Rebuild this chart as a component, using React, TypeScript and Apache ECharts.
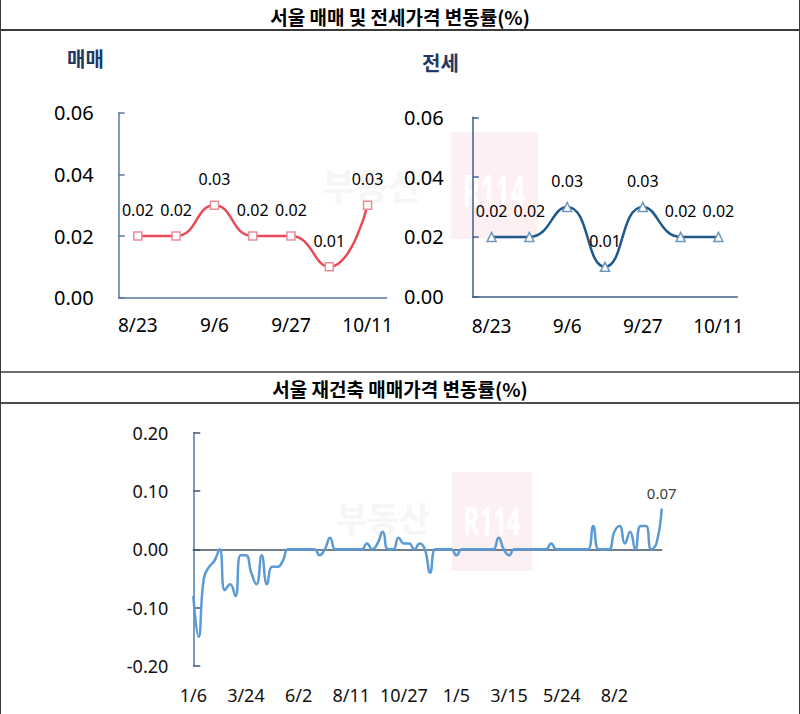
import React, { useEffect, useRef } from 'react';
import * as echarts from 'echarts';

// ---- Top charts (weekly) ----
const topCategories = ['8/23', '8/30', '9/6', '9/13', '9/27', '10/4', '10/11'];
const saleValues = [0.02, 0.02, 0.03, 0.02, 0.02, 0.01, 0.03];
const jeonseValues = [0.02, 0.02, 0.03, 0.01, 0.03, 0.02, 0.02];
const topYMin = 0;
const topYMax = 0.06;
const topYStep = 0.02;

// ---- Bottom chart (reconstruction sale price change) ----
const rebuildDates = [
  '1/6', '1/13', '1/20', '2/3', '2/10', '2/17', '2/24', '3/2', '3/9', '3/16',
  '3/24', '3/31', '4/7', '4/14', '4/21', '4/28', '5/5', '5/12', '5/19', '5/26',
  '6/2', '6/9', '6/16', '6/23', '6/30', '7/7', '7/14', '7/21', '7/28', '8/4',
  '8/11', '8/18', '8/25', '9/1', '9/8', '9/15', '9/22', '10/6', '10/13', '10/20',
  '10/27', '11/3', '11/10', '11/17', '11/24', '12/1', '12/8', '12/15', '12/22', '12/29',
  '1/5', '1/12', '1/19', '1/26', '2/1', '2/8', '2/15', '2/22', '3/1', '3/8',
  '3/15', '3/22', '3/29', '4/5', '4/12', '4/19', '4/26', '5/3', '5/10', '5/17',
  '5/24', '5/31', '6/7', '6/14', '6/21', '6/28', '7/5', '7/12', '7/19', '7/26',
  '8/2', '8/9', '8/16', '8/23', '8/30', '9/6', '9/13', '9/27', '10/4', '10/11',
];
const rebuildValues = [
  -0.08, -0.15, -0.05, -0.03, -0.02, 0.0, -0.07, -0.06, -0.08, -0.01,
  -0.01, -0.04, -0.06, -0.01, -0.06, -0.03, -0.03, -0.02, 0.0, 0.0,
  0.0, 0.0, 0.0, 0.0, -0.01, 0.0, 0.02, 0.0, 0.0, 0.0,
  0.0, 0.0, 0.0, 0.01, 0.0, 0.01, 0.03, 0.0, 0.0, 0.02,
  0.01, 0.01, 0.0, 0.01, 0.0, -0.04, 0.0, 0.0, 0.0, 0.0,
  -0.01, 0.0, 0.0, 0.0, 0.0, 0.0, 0.0, 0.0, 0.02, 0.0,
  -0.01, 0.0, 0.0, 0.0, 0.0, 0.0, 0.0, 0.0, 0.01, 0.0,
  0.0, 0.0, 0.0, 0.0, 0.0, 0.0, 0.04, 0.0, 0.0, 0.0,
  0.03, 0.04, 0.01, 0.03, 0.0, 0.04, 0.04, 0.0, 0.01, 0.07,
];
const bottomYMin = -0.2;
const bottomYMax = 0.2;
const bottomYStep = 0.1;

const NUM_FONT = "'Noto Sans', 'Open Sans', sans-serif";
const KR_FONT = "'Noto Sans CJK KR', 'Noto Sans', sans-serif";

export default function App() {
  const ref = useRef<HTMLDivElement>(null);

  useEffect(() => {
    if (!ref.current) return;
    const chart = echarts.init(ref.current, null, { renderer: 'svg' });
    const fmt = (v: number) => Number(v).toFixed(2);

    const topY = (gridIndex: number, color: string, margin: number) => ({
      type: 'value',
      gridIndex,
      min: topYMin,
      max: topYMax,
      interval: topYStep,
      axisLine: { show: true, lineStyle: { color, width: 1.5 } },
      axisTick: { show: true, inside: true, length: 6, lineStyle: { color, width: 1.5 } },
      splitLine: { show: false },
      axisLabel: { formatter: fmt, fontSize: 20, color: '#000', fontFamily: NUM_FONT, margin },
    });
    const topX = (gridIndex: number, color: string, margin: number) => ({
      type: 'category',
      gridIndex,
      data: topCategories,
      boundaryGap: true,
      axisLine: { show: true, lineStyle: { color, width: 1.5 } },
      axisTick: { show: false },
      axisLabel: { interval: 1, fontSize: 19, color: '#000', fontFamily: NUM_FONT, margin },
    });
    const topLabel = {
      show: true,
      position: 'top',
      distance: 13,
      fontSize: 16,
      color: '#000',
      fontFamily: NUM_FONT,
      formatter: (p: any) => Number(p.value).toFixed(2),
    };

    const lastIdx = rebuildValues.length - 1;

    const option: any = {
      animation: false,
      backgroundColor: '#ffffff',
      grid: [
        { left: 118.7, top: 112.7, width: 268, height: 185 },
        { left: 472.7, top: 117.3, width: 264.6, height: 179.4 },
        { left: 193.3, top: 432.7, width: 468.4, height: 233.3 },
      ],
      xAxis: [
        topX(0, '#5877a3', 18),
        topX(1, '#3f5f8c', 20),
        {
          type: 'category',
          gridIndex: 2,
          data: rebuildDates,
          boundaryGap: false,
          axisLine: { show: false, onZero: false },
          axisTick: { show: false },
          axisLabel: { interval: 9, fontSize: 18, color: '#111', fontFamily: NUM_FONT, margin: 20 },
        },
        {
          type: 'category',
          gridIndex: 2,
          data: rebuildDates,
          boundaryGap: false,
          axisLine: { show: true, onZero: true, lineStyle: { color: '#44546a', width: 1.5 } },
          axisTick: { show: false },
          axisLabel: { show: false },
        },
      ],
      yAxis: [
        topY(0, '#5877a3', 25),
        topY(1, '#3f5f8c', 29),
        {
          type: 'value',
          gridIndex: 2,
          min: bottomYMin,
          max: bottomYMax,
          interval: bottomYStep,
          axisLine: { show: true, lineStyle: { color: '#4f7cb0', width: 1.5 } },
          axisTick: { show: true, inside: true, length: 7, lineStyle: { color: '#44546a', width: 1.5 } },
          splitLine: { show: false },
          axisLabel: { formatter: fmt, fontSize: 18, color: '#111', fontFamily: NUM_FONT, margin: 25 },
        },
      ],
      series: [
        {
          type: 'line',
          xAxisIndex: 0,
          yAxisIndex: 0,
          data: saleValues,
          smooth: true,
          symbol: 'rect',
          symbolSize: 8,
          itemStyle: { color: '#ffffff', borderColor: '#ee8c95', borderWidth: 1.5 },
          lineStyle: { color: '#e84a57', width: 2.5 },
          label: topLabel,
        },
        {
          type: 'line',
          xAxisIndex: 1,
          yAxisIndex: 1,
          data: jeonseValues,
          smooth: true,
          symbol: 'triangle',
          symbolSize: 9,
          itemStyle: { color: '#ffffff', borderColor: '#6f97bd', borderWidth: 1.5 },
          lineStyle: { color: '#1f5a8a', width: 2.5 },
          label: topLabel,
        },
        {
          type: 'line',
          xAxisIndex: 2,
          yAxisIndex: 2,
          data: rebuildValues,
          smooth: 0.5,
          showSymbol: false,
          symbol: 'none',
          lineStyle: { color: '#5b9bd5', width: 2.5 },
          z: 3,
          markPoint: {
            silent: true,
            symbol: 'circle',
            symbolSize: 2,
            itemStyle: { color: 'rgba(0,0,0,0)' },
            label: {
              show: true,
              position: 'top',
              distance: 7,
              fontSize: 15,
              color: '#404040',
              fontFamily: NUM_FONT,
              formatter: (p: any) => Number(p.value).toFixed(2),
            },
            data: [{ coord: [lastIdx, rebuildValues[lastIdx]], value: rebuildValues[lastIdx] }],
          },
        },
      ],
      graphic: [
        // watermarks
        { type: 'text', z: -10, x: 322, y: 166, style: { text: '부동산', font: `bold 36px ${KR_FONT}`, fill: '#f6f6f6' } },
        { type: 'rect', z: -10, shape: { x: 451, y: 132, width: 87, height: 107 }, style: { fill: '#fdf0f2' } },
        { type: 'text', z: -9, x: 494, y: 190, scaleX: 0.6, style: { text: 'R114', font: `bold 44px ${NUM_FONT}`, fill: '#ffffff', align: 'center', verticalAlign: 'middle' } },
        { type: 'text', z: -10, x: 336, y: 500, style: { text: '부동산', font: `bold 34px ${KR_FONT}`, fill: '#f6f6f6' } },
        { type: 'rect', z: -10, shape: { x: 452, y: 472, width: 80, height: 99 }, style: { fill: '#fdf0f2' } },
        { type: 'text', z: -9, x: 492, y: 520, scaleX: 0.6, style: { text: 'R114', font: `bold 40px ${NUM_FONT}`, fill: '#ffffff', align: 'center', verticalAlign: 'middle' } },
        // frame lines
        { type: 'line', shape: { x1: 0, y1: 30, x2: 800, y2: 30 }, style: { stroke: '#3a3a3a', lineWidth: 2 } },
        { type: 'line', shape: { x1: 0, y1: 372, x2: 800, y2: 372 }, style: { stroke: '#6e6e6e', lineWidth: 2 } },
        { type: 'line', shape: { x1: 0, y1: 403, x2: 800, y2: 403 }, style: { stroke: '#111', lineWidth: 1.5 } },
        { type: 'line', shape: { x1: 0.5, y1: 0, x2: 0.5, y2: 714 }, style: { stroke: '#3a3a3a', lineWidth: 1 } },
        { type: 'line', shape: { x1: 799.5, y1: 0, x2: 799.5, y2: 714 }, style: { stroke: '#3a3a3a', lineWidth: 1 } },
        // titles
        {
          type: 'text', x: 400, y: 16,
          style: { text: '서울 매매 및 전세가격 변동률(%)', font: `bold 19px ${KR_FONT}`, fill: '#000', align: 'center', verticalAlign: 'middle' },
        },
        {
          type: 'text', x: 400, y: 388,
          style: { text: '서울 재건축 매매가격 변동률(%)', font: `bold 19px ${KR_FONT}`, fill: '#000', align: 'center', verticalAlign: 'middle' },
        },
        {
          type: 'text', x: 67, y: 58,
          style: { text: '매매', font: `bold 20px ${KR_FONT}`, fill: '#1f3864', align: 'left', verticalAlign: 'middle' },
        },
        {
          type: 'text', x: 422, y: 62,
          style: { text: '전세', font: `bold 20px ${KR_FONT}`, fill: '#1f3864', align: 'left', verticalAlign: 'middle' },
        },
      ],
    };

    chart.setOption(option);
    return () => {
      chart.dispose();
    };
  }, []);

  return (
    <div
      ref={ref}
      style={{ position: 'fixed', left: 0, top: 0, width: 800, height: 714, background: '#fff' }}
    />
  );
}
